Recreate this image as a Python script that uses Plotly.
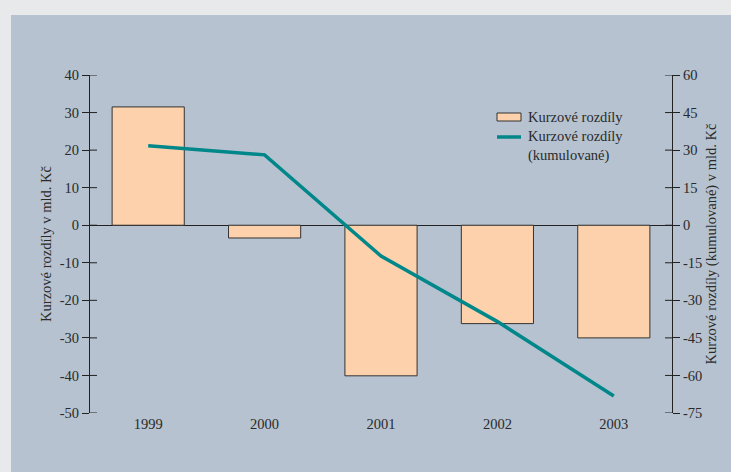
import plotly.graph_objects as go

years = ["1999", "2000", "2001", "2002", "2003"]
rozdily = [31.5, -3.4, -40.1, -26.2, -30.0]
kumulovane = [31.7, 28.1, -12.3, -38.5, -68.2]

left_ticks = [40, 30, 20, 10, 0, -10, -20, -30, -40, -50]
left_labels = ["40", "30", "20", "10", "0", "-10", "-20", "-30", "-40", "-50"]
right_ticks = [60, 45, 30, 15, 0, -15, -30, -45, -60, -75]
right_labels = ["60", "45", "30", "15", "0", "-15", "-30", "-45", "-60", "-75"]

FONT = "Liberation Serif"
FS = 14.5
TXT = "#2a2a2a"
PANEL = "#b6c2cf"
OUTER = "#e8e9eb"
BAR = "#fcd1ac"
LINE = "#00878a"
AX = "#222222"


def px_x(p):
    return (p - 90) / 582


def px_y(p):
    return (413 - p) / 338


fig = go.Figure()
fig.add_trace(go.Bar(
    x=years, y=rozdily, name="Kurzové rozdíly", width=0.62,
    marker=dict(color=BAR, line=dict(color="#333333", width=1)),
    yaxis="y", showlegend=False,
))
fig.add_trace(go.Scatter(
    x=years, y=kumulovane, name="Kurzové rozdíly (kumulované)", mode="lines",
    line=dict(color=LINE, width=3.5), yaxis="y2", showlegend=False,
))

tickfont = dict(family=FONT, size=FS, color=TXT)
axis_common = dict(showgrid=False, tickfont=tickfont,
                   ticklen=7, tickwidth=1, tickcolor=AX,
                   showline=True, linecolor=AX, linewidth=1.2)

# background panel
shapes = [dict(type="rect", xref="paper", yref="paper", x0=px_x(11), x1=px_x(740),
               y0=px_y(480), y1=px_y(15), fillcolor=PANEL, line=dict(width=0), layer="below")]
# inner halves of the crossing tick marks
for v in left_ticks:
    shapes.append(dict(type="line", xref="paper", yref="y", x0=0, x1=px_x(97), y0=v, y1=v,
                       line=dict(color=AX, width=1)))
for v in right_ticks:
    shapes.append(dict(type="line", xref="paper", yref="y2", x0=px_x(665), x1=1, y0=v, y1=v,
                       line=dict(color=AX, width=1)))
# custom legend swatches
shapes.append(dict(type="rect", xref="paper", yref="paper", x0=px_x(497), x1=px_x(521),
                   y0=px_y(121), y1=px_y(113), fillcolor=BAR, line=dict(color="#333333", width=1)))
shapes.append(dict(type="line", xref="paper", yref="paper", x0=px_x(497), x1=px_x(521),
                   y0=px_y(137), y1=px_y(137), line=dict(color=LINE, width=3.5)))

fig.update_layout(
    width=731, height=472,
    margin=dict(l=90, r=59, t=75, b=59),
    paper_bgcolor=OUTER, plot_bgcolor=PANEL,
    font=dict(family=FONT, size=FS, color=TXT),
    xaxis=dict(range=[-0.5, 4.5], showline=False, ticks="", showgrid=False,
               tickfont=tickfont, zeroline=False),
    yaxis=dict(range=[-50, 40], tickvals=left_ticks, ticktext=left_labels, ticks="outside",
               zeroline=True, zerolinecolor=AX, zerolinewidth=1.2,
               title=dict(text="Kurzové rozdíly v mld. Kč",
                          font=dict(family=FONT, size=FS, color=TXT), standoff=4),
               **axis_common),
    yaxis2=dict(range=[-75, 60], tickvals=right_ticks, ticktext=right_labels, ticks="outside",
                side="right", overlaying="y", zeroline=False,
                title=dict(text="Kurzové rozdíly (kumulované) v mld. Kč",
                           font=dict(family=FONT, size=FS, color=TXT), standoff=4),
                **axis_common),
    showlegend=False,
    shapes=shapes,
    annotations=[
        dict(xref="paper", yref="paper", x=px_x(526), y=px_y(117), xanchor="left", yanchor="middle",
             text="Kurzové rozdíly", showarrow=False, font=tickfont, align="left"),
        dict(xref="paper", yref="paper", x=px_x(526), y=px_y(126), xanchor="left", yanchor="top",
             text="Kurzové rozdíly<br>(kumulované)", showarrow=False, font=tickfont, align="left"),
    ],
)

fig.write_html("out.html", config={"displayModeBar": False},
               post_script="document.body.style.margin='0';document.body.style.overflow='hidden';")
